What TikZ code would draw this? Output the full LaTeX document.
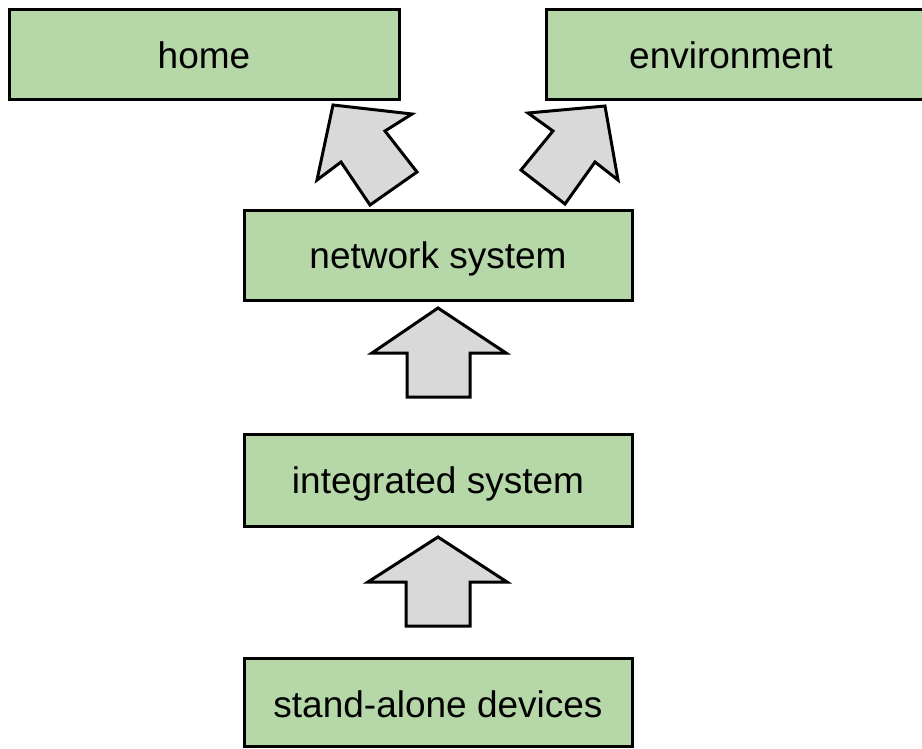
\documentclass[tikz,border=0pt]{standalone}
\usepackage{fontspec}
\setmainfont{Liberation Sans}
\definecolor{boxgreen}{HTML}{B6D7A8}
\definecolor{arrowgray}{HTML}{D9D9D9}
\begin{document}
\begin{tikzpicture}[x=1pt,y=-1pt,
  stagebox/.style={draw=black, line width=3pt, fill=boxgreen},
  stagetext/.style={font=\fontsize{37}{44}\selectfont, text=black, inner sep=0pt, anchor=base},
  blockarrow/.style={draw=black, line width=3pt, fill=arrowgray, line join=miter}]
\useasboundingbox (0,0) rectangle (922,748);
% boxes
\draw[stagebox] (9,9) rectangle (399,99);
\node[stagetext] (home) at (204,68) {home};
\draw[stagebox] (546,9) rectangle (930,99);
\node[stagetext] (env) at (731,68) {environment};
\draw[stagebox] (244,210) rectangle (632,300);
\node[stagetext] (net) at (438,268) {network system};
\draw[stagebox] (244,434) rectangle (632,526);
\node[stagetext] (integ) at (438,493) {integrated system};
\draw[stagebox] (244,658) rectangle (632,746.5);
\node[stagetext] (alone) at (438,717) {stand-alone devices};
% block arrows
\draw[blockarrow] (438,308) -- (506,353) -- (470,353) -- (470,397) -- (407,397) -- (407,353) -- (372,353) -- cycle;
\draw[blockarrow] (438,537) -- (507,582) -- (470,582) -- (470,626) -- (406,626) -- (406,582) -- (368,582) -- cycle;
\draw[blockarrow] (333,105) -- (412,114) -- (385,131) -- (417,172) -- (370,205) -- (341,162) -- (317,180) -- cycle;
\draw[blockarrow] (605,106) -- (528,113) -- (553,131) -- (521,170) -- (565,204) -- (595,162) -- (618,180) -- cycle;
\end{tikzpicture}
\end{document}
